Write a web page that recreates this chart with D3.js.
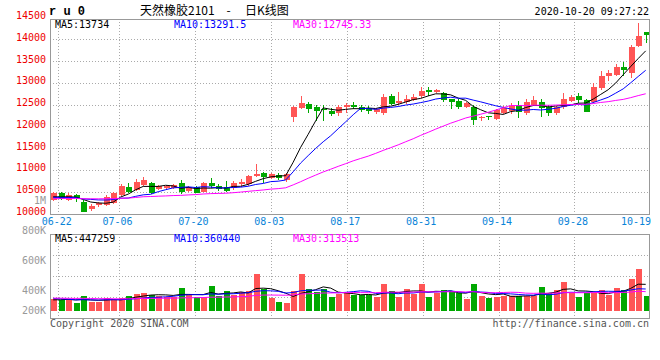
<!DOCTYPE html>
<html>
<head>
<meta charset="utf-8">
<script src="https://cdn.jsdelivr.net/npm/d3@7"></script>
<style>
  body { margin: 0; background: #fff; }
  text { font-family: "DejaVu Sans Mono", monospace; font-size: 10px; }
</style>
</head>
<body>
<svg id="chart" width="660" height="360"></svg>
<script>
// ---- data (ru0, daily) ----
const dates = ["06-19","06-22","06-23","06-24","06-29","06-30","07-01","07-02","07-03","07-06",
  "07-07","07-08","07-09","07-10","07-13","07-14","07-15","07-16","07-17","07-20",
  "07-21","07-22","07-23","07-24","07-27","07-28","07-29","07-30","07-31","08-03",
  "08-04","08-05","08-06","08-07","08-10","08-11","08-12","08-13","08-14","08-17",
  "08-18","08-19","08-20","08-21","08-24","08-25","08-26","08-27","08-28","08-31",
  "09-01","09-02","09-03","09-04","09-07","09-08","09-09","09-10","09-11","09-14",
  "09-15","09-16","09-17","09-18","09-21","09-22","09-23","09-24","09-25","09-28",
  "09-29","09-30","10-09","10-12","10-13","10-14","10-15","10-16","10-19","10-20"];

const open = [10300,10480,10310,10425,10270,10110,10190,10195,10235,10425,
  10600,10540,10655,10695,10555,10580,10580,10700,10525,10615,
  10500,10705,10630,10600,10580,10670,10670,10860,10925,10820,
  10885,10770,12220,12415,12515,12440,12400,12360,12300,12450,
  12490,12440,12415,12335,12300,12695,12545,12565,12605,12695,
  12835,12795,12760,12620,12590,12450,12440,12185,12230,12170,
  12300,12360,12490,12300,12490,12565,12440,12300,12440,12585,
  12695,12605,12565,12875,13165,13180,13370,13235,13845,14165];

const high = [10490,10500,10465,10440,10305,10210,10260,10420,10500,10680,
  10700,10800,10830,10720,10660,10650,10680,10760,10620,10640,
  10720,10820,10670,10755,10755,10785,10885,11135,10960,10925,
  10925,10925,12470,12705,12565,12490,12480,12420,12480,12540,
  12560,12480,12460,12420,12740,12740,12795,12720,12740,12900,
  12900,12860,12800,12640,12640,12560,12490,12245,12245,12410,
  12460,12530,12590,12640,12700,12620,12500,12470,12775,12720,
  12760,12640,12990,13280,13290,13440,13480,13870,14380,14165];

const low = [10280,10310,10295,10255,10030,10060,10140,10180,10210,10400,
  10470,10520,10640,10440,10530,10560,10560,10450,10500,10460,
  10490,10580,10525,10500,10540,10615,10640,10845,10695,10785,
  10770,10730,12110,12390,12300,12130,12130,12250,12250,12300,
  12400,12330,12290,12280,12260,12480,12490,12520,12580,12645,
  12700,12760,12560,12390,12400,12420,12030,12130,12150,12140,
  12280,12290,12200,12260,12460,12210,12240,12260,12400,12560,
  12540,12330,12540,12830,13040,13150,13150,13105,13830,13910];

const close = [10460,10335,10425,10350,10040,10170,10230,10385,10480,10630,
  10500,10730,10770,10480,10630,10630,10655,10490,10600,10480,
  10705,10630,10555,10525,10695,10715,10860,10900,10830,10900,
  10810,10900,12450,12545,12390,12360,12380,12285,12440,12490,
  12440,12375,12360,12390,12680,12515,12590,12620,12670,12820,
  12795,12835,12605,12565,12450,12530,12145,12220,12215,12375,
  12415,12475,12335,12565,12605,12415,12315,12440,12620,12680,
  12605,12335,12895,13155,13220,13370,13295,13830,14075,14100];

const volume = [194,183,194,138,249,154,154,211,183,221,
  249,282,304,266,249,237,237,387,266,237,
  237,415,249,332,266,320,332,614,365,221,
  149,133,337,614,365,320,365,237,282,294,
  266,266,266,237,448,332,237,365,282,448,
  237,304,349,332,294,199,448,254,221,237,
  254,254,254,254,254,403,304,349,486,294,
  237,294,294,349,266,382,349,531,697,254].map(v => v * 1000);

// closes / volumes of the 29 sessions before 06-19 (feed the moving averages)
const prevClose = [10280,10350,10310,10240,10190,10260,10330,10385,10420,10365,
  10300,10275,10320,10400,10455,10410,10350,10290,10245,10300,
  10370,10430,10390,10330,10280,10350,10410,10380,10320];
const prevVolume = [230,250,210,190,260,220,200,240,270,210,
  190,230,250,200,180,220,240,210,190,170,
  230,260,240,210,200,170,160,190,210].map(v => v * 1000);

const priceTicks = [10000,10500,11000,11500,12000,12500,13000,13500,14000,14500];
const volTickValues = [1000000,800000,600000,400000,200000];
const volTickLabels = ["1M","800K","600K","400K","200K"];
const gridDates = ["06-22","07-06","07-20","08-03","08-17","08-31","09-14","09-28"];
const labelDates = ["06-22","07-06","07-20","08-03","08-17","08-31","09-14","09-28","10-19"];

// title pieces: name + contract, separator, chart kind
const titleParts = ["天然橡胶2101", "-", "日K线图"];
const stamp = "2020-10-20 09:27:22";
const priceMA = [["MA5:13734", "#000"], ["MA10:13291.5", "#0000ff"], ["MA30:12745.33", "#ff00ff"]];
const volMA = [["MA5:447259", "#000"], ["MA10:360440", "#0000ff"], ["MA30:313513", "#ff00ff"]];

const UP = "#ff5555", DOWN = "#00a800";

//////////////////////////////////////////////////////////////
// layout
const L = 50, R = 649;
const pTop = 19, pBot = 213.5;
const vTop = 234.3, vBot = 318.3, vBase = 311;

const svg = d3.select("#chart");

const x = d3.scalePoint().domain(dates).range([53.2, 645.7]);
const gx = d3.scalePoint().domain(dates).range([50.7, 650.3]);
const y = d3.scaleLinear().domain([10000, 14500]).range([213.5, 17.5]);
const yv = d3.scaleLinear().domain([0, 1000000]).range([vBase, vBase - 1000000 / 16600]);
const yvLabel = d3.scaleLinear().domain([0, 1000000]).range([350.7, 200.7]);

// moving averages
function movingAvg(prev, vals, n) {
  const all = prev.concat(vals);
  return vals.map((v, i) => {
    const end = prev.length + i + 1;
    return d3.mean(all.slice(end - n, end));
  });
}

svg.append("defs").append("clipPath").attr("id", "pclip")
  .append("rect").attr("x", L).attr("y", pTop).attr("width", R - L).attr("height", pBot - pTop);
svg.select("defs").append("clipPath").attr("id", "vclip")
  .append("rect").attr("x", L).attr("y", vTop).attr("width", R - L).attr("height", vBot - vTop);

const gridColor = "#aaa";

// ---- grid ----
const grid = svg.append("g").attr("stroke", gridColor).attr("stroke-dasharray", "1,2").attr("shape-rendering", "crispEdges");
grid.selectAll(".vg").data(gridDates).enter().append("line")
  .attr("x1", d => Math.round(gx(d)) + 0.5).attr("x2", d => Math.round(gx(d)) + 0.5)
  .attr("y1", pTop).attr("y2", pBot);
grid.selectAll(".vg2").data(gridDates).enter().append("line")
  .attr("x1", d => Math.round(gx(d)) + 0.5).attr("x2", d => Math.round(gx(d)) + 0.5)
  .attr("y1", vTop).attr("y2", vBot);
grid.selectAll(".hg").data(priceTicks.filter(p => p > 10000 && p < 14500)).enter().append("line")
  .attr("x1", L).attr("x2", R)
  .attr("y1", d => Math.round(y(d)) + 0.5).attr("y2", d => Math.round(y(d)) + 0.5);
grid.selectAll(".hv").data([1, 2, 3]).enter().append("line")
  .attr("x1", L).attr("x2", R)
  .attr("y1", d => Math.round(vTop + d * (vBot - vTop) / 4) + 0.5)
  .attr("y2", d => Math.round(vTop + d * (vBot - vTop) / 4) + 0.5);

// ---- candles ----
const idx = d3.range(dates.length);
const bw = 6;
const candles = svg.append("g").attr("clip-path", "url(#pclip)").attr("shape-rendering", "crispEdges");
candles.selectAll(".wick").data(idx).enter().append("line")
  .attr("x1", i => Math.round(x(dates[i])) + 0.5).attr("x2", i => Math.round(x(dates[i])) + 0.5)
  .attr("y1", i => y(high[i])).attr("y2", i => y(low[i]))
  .attr("stroke", i => close[i] >= open[i] ? UP : DOWN);
candles.selectAll(".body").data(idx).enter().append("rect")
  .attr("x", i => Math.round(x(dates[i])) - bw / 2 + 0.5)
  .attr("width", bw)
  .attr("y", i => y(Math.max(open[i], close[i])))
  .attr("height", i => Math.max(1, Math.abs(y(open[i]) - y(close[i]))))
  .attr("fill", i => close[i] >= open[i] ? UP : DOWN);

// ---- price MAs ----
const line = d3.line().x((d, i) => x(dates[i])).y(d => y(d));
const mas = [[5, "#000"], [10, "#0000ff"], [30, "#ff00ff"]];
const maG = svg.append("g").attr("clip-path", "url(#pclip)");
mas.forEach(([n, c]) => {
  maG.append("path").datum(movingAvg(prevClose, close, n))
    .attr("d", line).attr("fill", "none").attr("stroke", c).attr("stroke-width", 1);
});

// ---- volume ----
const vol = svg.append("g").attr("clip-path", "url(#vclip)").attr("shape-rendering", "crispEdges");
vol.selectAll(".vb").data(idx).enter().append("rect")
  .attr("x", i => Math.round(x(dates[i])) - bw / 2 + 0.5)
  .attr("width", bw)
  .attr("y", i => yv(volume[i]))
  .attr("height", i => vBase - yv(volume[i]))
  .attr("fill", i => close[i] >= open[i] ? UP : DOWN);
const vline = d3.line().x((d, i) => x(dates[i])).y(d => yv(d));
mas.forEach(([n, c]) => {
  vol.append("path").datum(movingAvg(prevVolume, volume, n))
    .attr("d", vline).attr("fill", "none").attr("stroke", c).attr("stroke-width", 1)
    .attr("shape-rendering", "auto");
});

// ---- frames ----
const frame = svg.append("g").attr("fill", "none").attr("stroke", "#999").attr("shape-rendering", "crispEdges");
frame.append("rect").attr("x", L + 0.5).attr("y", pTop + 0.5).attr("width", R - L).attr("height", pBot - pTop);
frame.append("rect").attr("x", L + 0.5).attr("y", Math.round(vTop) + 0.5).attr("width", R - L).attr("height", Math.round(vBot - vTop));

// ---- axis labels ----
svg.append("g").selectAll("text").data(priceTicks).enter().append("text")
  .attr("x", 46).attr("y", d => y(d) - 2).attr("dy", "0.35em")
  .attr("text-anchor", "end").attr("fill", "#ee0000").text(d => d);

svg.append("g").selectAll("text").data(volTickValues).enter().append("text")
  .attr("x", 46).attr("y", d => Math.min(yvLabel(d), 310.7)).attr("dy", "0.35em")
  .attr("text-anchor", "end").attr("fill", "#999").text((d, i) => volTickLabels[i]);

svg.append("g").selectAll("text").data(labelDates).enter().append("text")
  .attr("x", d => Math.min(gx(d) - 1.5, 636))
  .attr("y", 221.7).attr("dy", "0.35em")
  .attr("text-anchor", "middle").attr("fill", "#0a84d8").text(d => d);

// ---- header ----
svg.append("text").attr("x", 49).attr("y", 15)
  .style("font-family", "'Liberation Mono', monospace").style("font-size", "12px").style("font-weight", "bold")
  .attr("fill", "#000").text("r u 0");
const t = svg.append("text").attr("y", 14.5)
  .style("font-family", "'Noto Sans CJK SC', sans-serif").style("font-size", "12px")
  .attr("fill", "#000");
t.append("tspan").attr("x", 140).text(titleParts[0]);
t.append("tspan").attr("x", 228.5).attr("text-anchor", "middle").text(titleParts[1]);
t.append("tspan").attr("x", 245).text(titleParts[2]);
svg.append("text").attr("x", 649).attr("y", 15).attr("text-anchor", "end")
  .attr("fill", "#000").text(stamp);

const maX = [55, 174, 293];
svg.append("g").selectAll("text").data(priceMA).enter().append("text")
  .attr("x", (d, i) => maX[i]).attr("y", 24).attr("dy", "0.35em")
  .attr("fill", d => d[1]).text(d => d[0]);
svg.append("g").selectAll("text").data(volMA).enter().append("text")
  .attr("x", (d, i) => maX[i]).attr("y", 238).attr("dy", "0.35em")
  .attr("fill", d => d[1]).text(d => d[0]);

// ---- footer ----
svg.append("text").attr("x", 50).attr("y", 323.5).attr("dy", "0.35em")
  .attr("fill", "#555").text("Copyright 2020 SINA.COM");
svg.append("text").attr("x", 649).attr("y", 323.5).attr("dy", "0.35em").attr("text-anchor", "end")
  .attr("fill", "#555").text("http://finance.sina.com.cn");
</script>
</body>
</html>
